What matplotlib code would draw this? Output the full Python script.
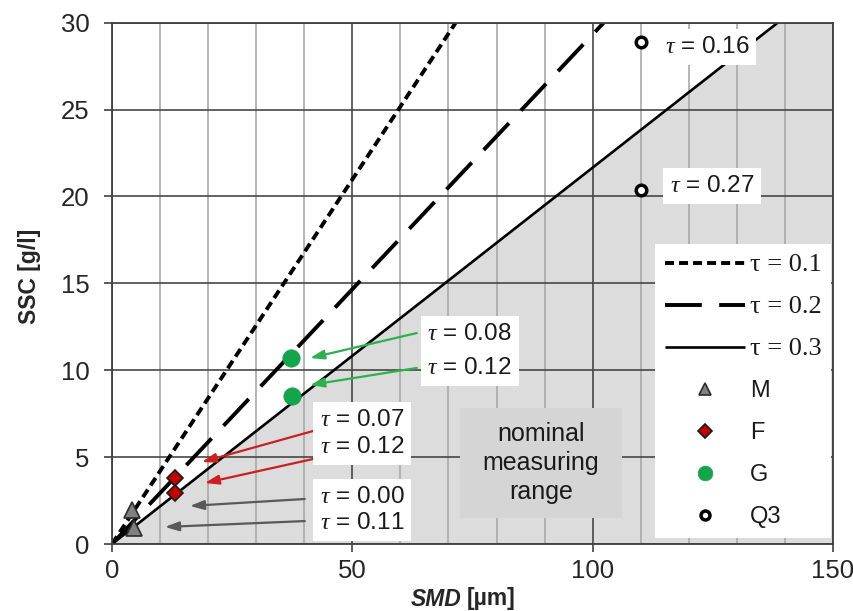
import matplotlib
matplotlib.use("Agg")
import matplotlib.pyplot as plt
from matplotlib.patches import Rectangle
from matplotlib.ticker import MultipleLocator

plt.rcParams['font.family'] = ['Liberation Sans', 'DejaVu Sans']
plt.rcParams['mathtext.fontset'] = 'custom'
plt.rcParams['mathtext.it'] = 'Liberation Serif:italic'
plt.rcParams['mathtext.rm'] = 'Liberation Sans'
plt.rcParams['lines.scale_dashes'] = False

# Reference lines for tau = 0.1 / 0.2 / 0.3 (start and end points)
tau_labels = ['τ = 0.1', 'τ = 0.2', 'τ = 0.3']
tau_smd = [[0, 71.5], [0, 102.3], [0, 138.5]]
tau_ssc = [[0, 30], [0, 30], [0, 30]]

# Sample groups: SMD [µm], SSC [g/l] and the measured tau of each point
m_smd = [4.1, 4.6]
m_ssc = [1.97, 0.9]
m_tau = ['0.00', '0.11']

f_smd = [13.1, 13.1]
f_ssc = [3.78, 2.92]
f_tau = ['0.07', '0.12']

g_smd = [37.2, 37.4]
g_ssc = [10.7, 8.5]
g_tau = ['0.08', '0.12']

q3_smd = [110.1, 110.1]
q3_ssc = [28.9, 20.4]
q3_tau = ['0.16', '0.27']

x_max, y_max = 150, 30

fig = plt.figure(figsize=(8.54, 6.11), dpi=100)
ax = fig.add_axes([112 / 854, 1 - 544 / 611, 721 / 854, 521.3 / 611])
ax.set_xlim(0, x_max)
ax.set_ylim(0, y_max)

# shaded area below the tau = 0.3 line
fx = [tau_smd[2][0], tau_smd[2][1], x_max]
fy = [tau_ssc[2][0], tau_ssc[2][1], y_max]
ax.fill_between(fx, 0, fy, color='#dcdcdc', lw=0, zorder=0.1)

# grid
ax.set_axisbelow(True)
ax.xaxis.set_major_locator(MultipleLocator(50))
ax.xaxis.set_minor_locator(MultipleLocator(10))
ax.yaxis.set_major_locator(MultipleLocator(5))
ax.grid(which='major', axis='both', color='#474747', lw=1.2)
ax.grid(which='minor', axis='x', color='#a9a9a9', lw=1.2)

# nominal measuring range box
ax.add_patch(Rectangle((72.3, 1.5), 33.9, 6.3, facecolor='#d5d5d5',
                       edgecolor='none', zorder=0.8))
ax.text(89.2, 4.66, 'nominal\nmeasuring\nrange', ha='center', va='center',
        fontsize=18, linespacing=1.25, color='#1a1a1a', zorder=1)

# tau lines
styles = [dict(ls=(0, (6.5, 3.6)), lw=2.8),
          dict(ls=(0, (26.5, 12.5)), lw=2.8),
          dict(ls='-', lw=1.9)]
line_handles = []
for xs, ys, st, lab in zip(tau_smd, tau_ssc, styles, tau_labels):
    ln, = ax.plot(xs, ys, color='black', dash_capstyle='butt',
                  solid_capstyle='butt', zorder=2, label=lab, **st)
    line_handles.append(ln)

# sample markers
hm, = ax.plot(m_smd, m_ssc, ls='none', marker='^', ms=11, mfc='#808080',
              mec='#2b2b2b', mew=1.2, zorder=4, label='M')
hf, = ax.plot(f_smd, f_ssc, ls='none', marker='D', ms=8.5, mfc='#c40000',
              mec='#1a1a1a', mew=1.2, zorder=4, label='F')
hg, = ax.plot(g_smd, g_ssc, ls='none', marker='o', ms=12.5, mfc='#12a54b',
              mec='#12a54b', mew=0.5, zorder=4, label='G')
hq, = ax.plot(q3_smd, q3_ssc, ls='none', marker='o', ms=7.6, mfc='white',
              mec='black', mew=2.5, zorder=4, label='Q3')

# arrows from the tau labels to the points
arrows = [
    ('#2bb24c', (63.4, 12.14), (41.2, 10.70)),
    ('#2bb24c', (63.4, 10.13), (41.2, 9.15)),
    ('#cc1f1f', (41.8, 6.50), (18.7, 4.72)),
    ('#cc1f1f', (41.8, 4.89), (19.3, 3.51)),
    ('#595959', (40.1, 2.59), (16.2, 2.19)),
    ('#595959', (40.1, 1.32), (11.0, 0.98)),
]
for col, tail, head in arrows:
    ax.annotate('', xy=head, xytext=tail, zorder=3,
                arrowprops=dict(arrowstyle='-|>,head_length=0.6,head_width=0.2',
                                mutation_scale=14, color=col, lw=1.6,
                                shrinkA=0, shrinkB=0))


def tau_text(vals):
    return '\n'.join(r'$\tau$ = ' + v for v in vals)


box = dict(boxstyle='square,pad=0.28', facecolor='white', edgecolor='none')
tkw = dict(fontsize=17.5, ha='left', va='center', bbox=box, zorder=5,
           color='#1a1a1a')
ax.text(115.0, 28.6, tau_text(q3_tau[:1]), **tkw)
ax.text(116.0, 20.6, tau_text(q3_tau[1:]), **tkw)
ax.text(65.6, 11.1, tau_text(g_tau), linespacing=1.75, **tkw)
ax.text(43.2, 6.36, tau_text(f_tau), linespacing=1.3, **tkw)
ax.text(43.2, 1.96, tau_text(m_tau), linespacing=1.25, **tkw)

# spines and ticks
for s in ax.spines.values():
    s.set_color('#404040')
    s.set_linewidth(1.3)
ax.tick_params(axis='x', which='major', direction='out', length=6, width=1.2,
               color='#404040', pad=5, labelsize=18.5, labelcolor='#262626')
ax.tick_params(axis='x', which='minor', length=0)
ax.tick_params(axis='y', which='major', direction='out', length=6, width=1.2,
               color='#404040', pad=10, labelsize=18.5, labelcolor='#262626')

# axis labels
fig.text(30 / 854, 1 - 276 / 611, 'SSC [g/l]', rotation=90, ha='center',
         va='center', fontsize=16.5, fontweight='bold', color='#262626')
fig.text(461 / 854, 1 - 599 / 611, 'SMD', ha='right', va='center',
         fontsize=16.5, fontweight='bold', fontstyle='italic', color='#262626')
fig.text(467 / 854, 1 - 599 / 611, '[µm]', ha='left', va='center',
         fontsize=16.5, fontweight='bold', color='#262626')

# legend
handles = line_handles + [hm, hf, hg, hq]
labels = tau_labels + ['M', 'F', 'G', 'Q3']
leg = ax.legend(handles, labels, loc='lower right',
                bbox_to_anchor=(0.997, 0.012), borderaxespad=0,
                frameon=True, fancybox=False, framealpha=1,
                edgecolor='none', facecolor='white', fontsize=17,
                handlelength=3.4, handletextpad=0.2, labelspacing=0.85,
                borderpad=0.4, markerscale=0.85)
leg.set_zorder(10)
for t in leg.get_texts()[:3]:
    t.set_fontfamily('Liberation Serif')
    t.set_fontsize(19)
for t in leg.get_texts():
    t.set_color('#1a1a1a')

fig.savefig('out.png', dpi=100)
